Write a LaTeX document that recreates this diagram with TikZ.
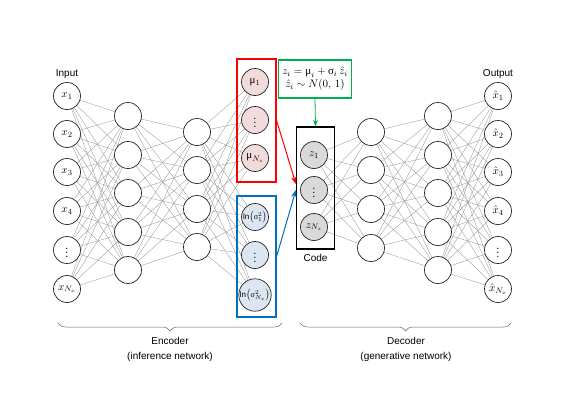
\documentclass[tikz,border=0pt]{standalone}
\usepackage{fontspec}
\setmainfont{Liberation Sans}
\newfontfamily\grk{Liberation Serif}
\usetikzlibrary{
  arrows.meta,
  positioning,
  decorations.pathreplacing,
  backgrounds
}
\definecolor{latred}{RGB}{255,0,0}
\definecolor{latblue}{RGB}{0,112,192}
\definecolor{latgreen}{RGB}{0,176,80}
\definecolor{mufill}{RGB}{242,220,219}
\definecolor{sgfill}{RGB}{220,230,242}
\definecolor{zfill}{RGB}{217,217,217}

\begin{document}
\begin{tikzpicture}[
  x=1pt, y=-1pt,
  every node/.style={font=\fontsize{10}{15}\selectfont},
  neuron/.style={circle, draw=black!85, fill=white, minimum size=27pt,
                 inner sep=0pt, line width=0.7pt,
                 font=\fontsize{11}{13}\selectfont},
  link/.style={draw=black!40, line width=0.35pt},
  latbox/.style={draw, line width=1.2pt, inner sep=0pt},
  netbrace/.style={draw=black!60, line width=0.5pt, decorate,
                   decoration={brace, mirror, amplitude=8pt}},
  >=Stealth
]
\useasboundingbox (0,0) rectangle (573,407);

% Encoder
\foreach \y/\t [count=\i] in {96/$x_1$, 134/$x_2$, 172/$x_3$, 211/$x_4$,
                               250/$\vdots$, 289/$x_{N_x}$}
  \node[neuron] (in\i) at (67,\y) {\t};
\node (inlbl) at (67,74) {Input};

\foreach \y [count=\i] in {116,155,193,232,270}
  \node[neuron] (ea\i) at (128,\y) {};
\foreach \y [count=\i] in {132,170,209,247}
  \node[neuron] (eb\i) at (197,\y) {};

% Latent mean and log-variance
\foreach \y/\t [count=\i] in {82/$\mbox{\grk μ}_1$, 120/$\vdots$,
                               158/$\mbox{\grk μ}_{N_z}$}
  \node[neuron, fill=mufill] (mu\i) at (255,\y) {\t};
\foreach \y/\t [count=\i] in {217/$\ln\!\left(\mbox{\grk σ}_1^2\right)$,
                               255/{\fontsize{11}{13}\selectfont$\vdots$},
                               295/$\ln\!\left(\mbox{\grk σ}_{N_z}^2\right)$}
  \node[neuron, fill=sgfill, font=\fontsize{8}{10}\selectfont]
    (sg\i) at (255,\y) {\t};

\node[latbox, draw=latred, minimum width=39pt, minimum height=123pt]
  (mubox) at (256.5,120.5) {};
\node[latbox, draw=latblue, minimum width=39pt, minimum height=121pt]
  (sgbox) at (256.5,256.5) {};

% Code
\foreach \y/\t [count=\i] in {155/$z_1$, 190/$\vdots$, 227/$z_{N_z}$}
  \node[neuron, fill=zfill] (z\i) at (314,\y) {\t};
\node[latbox, draw=black, minimum width=38pt, minimum height=122pt]
  (codebox) at (315.5,188) {};
\node[below=1pt of codebox] (codelbl) {Code};

\node[latbox, draw=latgreen, minimum width=73pt, minimum height=38pt,
      align=center, font=\fontsize{11}{13}\selectfont]
  (eqbox) at (315,79)
  {$z_i = \mbox{\grk μ}_i + \mbox{\grk σ}_i\,\hat{z}_i$\\
   $\hat{z}_i \sim N\!\left(0,\,1\right)$};

% Decoder
\foreach \y [count=\i] in {132,170,209,248}
  \node[neuron] (da\i) at (371,\y) {};
\foreach \y [count=\i] in {116,155,193,232,270}
  \node[neuron] (db\i) at (438,\y) {};
\foreach \y/\t [count=\i] in {96/$\hat{x}_1$, 134/$\hat{x}_2$, 172/$\hat{x}_3$,
                               211/$\hat{x}_4$, 250/$\vdots$, 289/$\hat{x}_{N_x}$}
  \node[neuron] (out\i) at (498,\y) {\t};
\node (outlbl) at (498,74) {Output};

% Connections
\begin{scope}[on background layer]
  \foreach \i in {1,...,6} \foreach \j in {1,...,5}
    \draw[link] (in\i) -- (ea\j);
  \foreach \i in {1,...,5} \foreach \j in {1,...,4}
    \draw[link] (ea\i) -- (eb\j);
  \foreach \i in {1,...,4} \foreach \j in {1,2,3} {
    \draw[link] (eb\i) -- (mu\j);
    \draw[link] (eb\i) -- (sg\j);
  }
  \foreach \i in {1,2,3} \foreach \j in {1,...,4}
    \draw[link] (z\i) -- (da\j);
  \foreach \i in {1,...,4} \foreach \j in {1,...,5}
    \draw[link] (da\i) -- (db\j);
  \foreach \i in {1,...,5} \foreach \j in {1,...,6}
    \draw[link] (db\i) -- (out\j);
\end{scope}

\draw[->, latred, line width=1pt] (mubox.east) -- ([yshift=4pt]codebox.west);
\draw[->, latblue, line width=1pt] (sgbox.east) -- ([yshift=-2pt]codebox.west);
\draw[->, latgreen, line width=0.8pt] (eqbox.south) -- (codebox.north);

% Braces
\draw[netbrace] (58,323) coordinate (encl) -- (282,323) coordinate (encr);
\node[align=center] (enclbl) at (170,349.5) {Encoder\\(inference network)};
\draw[netbrace] (300,323) coordinate (decl) -- (511,323) coordinate (decr);
\node[align=center] (declbl) at (406,349.5) {Decoder\\(generative network)};

\end{tikzpicture}
\end{document}
